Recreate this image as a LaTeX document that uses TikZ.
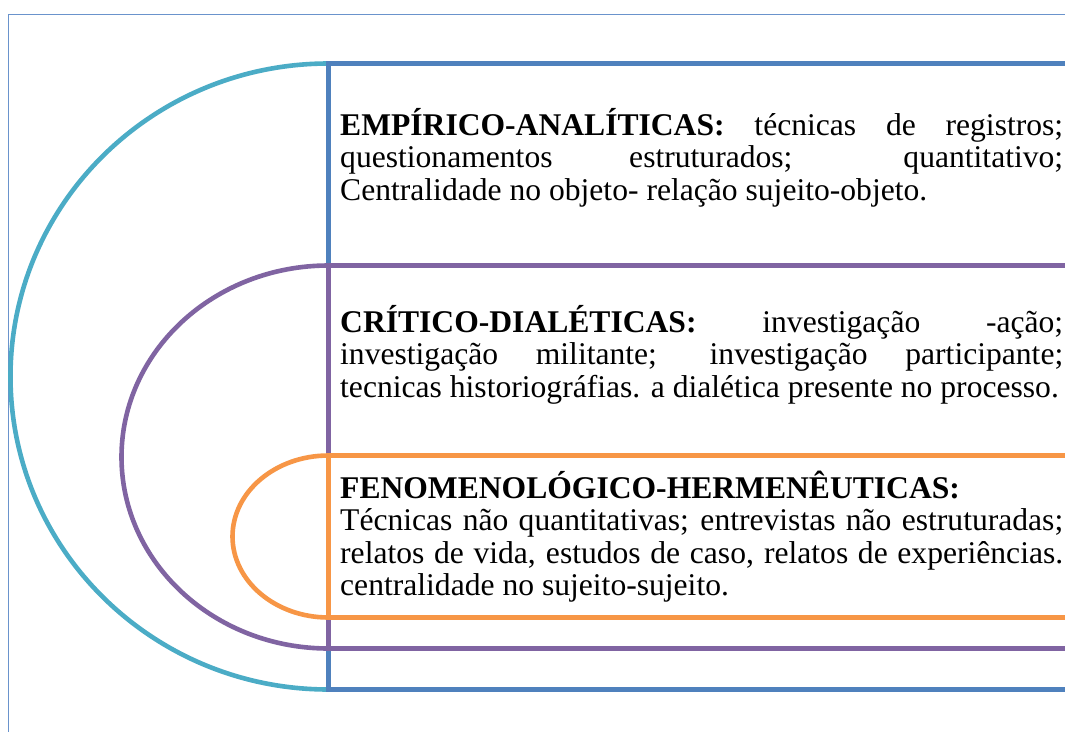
\documentclass[tikz,border=0pt]{standalone}
\usepackage{fontspec}
\setmainfont{Liberation Serif}
\definecolor{cteal}{HTML}{4BACC6}
\definecolor{cblue}{HTML}{4F81BD}
\definecolor{cpurple}{HTML}{8064A2}
\definecolor{corange}{HTML}{F79646}
\definecolor{cframe}{HTML}{6A93CC}
\tikzset{
  shapeline/.style={line width=4.6pt, line join=miter},
  txt/.style={anchor=base west, inner sep=0pt, font=\fontsize{31.6}{32.5}\selectfont},
}
\newcommand{\jpar}[1]{\parbox[t]{723pt}{\hyphenpenalty=10000 \exhyphenpenalty=10000 \tolerance=10000 \rightskip=0pt plus 0pt #1}}
\begin{document}
\begin{tikzpicture}[x=1pt,y=-1pt]
\useasboundingbox (0,0) rectangle (1065,731);
\clip (0,0) rectangle (1065,731);
\fill[white] (0,0) rectangle (1065,731);
% outer frame
\draw[cframe, line width=1.9pt] (8.5,760) -- (8.5,14.5) -- (1100,14.5);
% blue / teal shape
\draw[shapeline, cteal] (328.5,63.5) arc[start angle=270, end angle=90, x radius=318, y radius=313];
\draw[shapeline, cblue] (1100,63.5) -- (328.5,63.5) -- (328.5,689.5) -- (1100,689.5);
% purple shape
\draw[shapeline, cpurple] (328.5,265.5) arc[start angle=270, end angle=90, x radius=207, y radius=191.5];
\draw[shapeline, cpurple] (1100,265.5) -- (328.5,265.5) -- (328.5,648.5) -- (1100,648.5);
% orange shape
\draw[shapeline, corange] (328.5,455.5) arc[start angle=270, end angle=90, x radius=96, y radius=81];
\draw[shapeline, corange] (1100,455.5) -- (328.5,455.5) -- (328.5,617.5) -- (1100,617.5);
% texts
\node[txt] (t1) at (340,135) {\jpar{\textbf{EMPÍRICO-ANALÍTICAS:} técnicas de registros;\linebreak questionamentos estruturados; quantitativo;\linebreak Centralidade no objeto- relação sujeito-objeto.}};
\node[txt] (t2) at (340,332) {\jpar{\textbf{CRÍTICO-DIALÉTICAS:} investigação -ação;\linebreak investigação militante; investigação participante;\linebreak tecnicas historiográfias. a dialética presente no processo.}};
\node[txt] (t3) at (340,498) {\jpar{\textbf{FENOMENOLÓGICO-HERMENÊUTICAS:}\newline Técnicas não quantitativas; entrevistas não estruturadas;\linebreak relatos de vida, estudos de caso, relatos de experiências.\linebreak centralidade no sujeito-sujeito.}};
\end{tikzpicture}
\end{document}
